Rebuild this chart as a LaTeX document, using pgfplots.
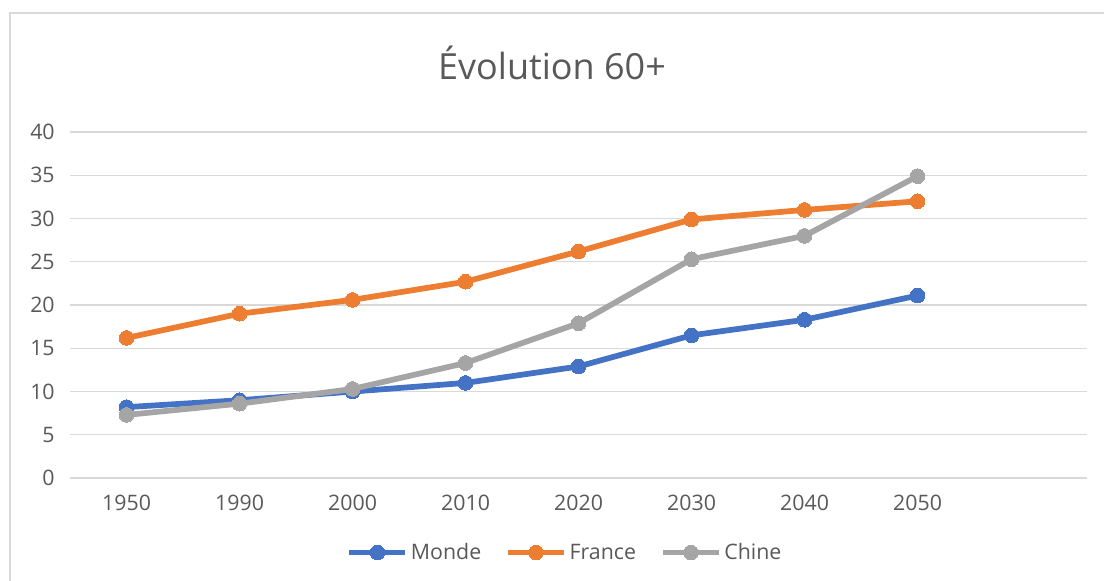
\documentclass[border=0pt]{standalone}
\usepackage{pgfplots}
\pgfplotsset{compat=1.18}
\usepackage{fontspec}
\setmainfont{Open Sans}
\definecolor{cblue}{HTML}{4472C4}
\definecolor{corange}{HTML}{ED7D31}
\definecolor{cgray}{HTML}{A5A5A5}
\definecolor{cgrid}{HTML}{D9D9D9}
\definecolor{ctext}{HTML}{595959}
\begin{document}
\begin{tikzpicture}[x=0.75pt,y=0.75pt]
\useasboundingbox (0,0) rectangle (1104,581);
\begin{scope}
\clip (0,0) rectangle (1104,581);
\draw[cgrid, line width=1.5pt] (10,-5) -- (10,568) -- (1110,568);
\end{scope}
\node[text=ctext, font=\fontsize{27}{32}\selectfont] at (552,518) {Évolution 60+};
\begin{axis}[
  at={(62,119)}, anchor=south west,
  scale only axis, width=762.75pt, height=259.5pt,
  xmin=-0.5, xmax=8.5, ymin=0, ymax=40,
  xtick={0,...,7},
  xticklabels={1950,1990,2000,2010,2020,2030,2040,2050},
  ytick={0,5,...,40},
  ymajorgrids, grid style={cgrid, line width=1pt},
  axis line style={draw=none},
  major tick length=0pt,
  tick label style={text=ctext, font=\fontsize{16}{19}\selectfont},
  /pgf/number format/assume math mode=true,
  xticklabel style={yshift=-9pt},
  yticklabel style={xshift=-8pt},
  legend columns=3,
  legend style={draw=none, at={(0.487,-0.215)}, anchor=center,
    font=\fontsize{16}{19}\selectfont, text=ctext,
    /tikz/every even column/.append style={column sep=16pt}},
  legend image code/.code={
    \draw[mark repeat=2,mark phase=2] plot coordinates {(0pt,0pt)(21pt,0pt)(42pt,0pt)};
  },
  every axis plot/.append style={line width=4.3pt, mark=*, mark size=5.5pt},
]
\addplot[cblue, line width=4.3pt, mark options={fill=cblue, draw=cblue, line width=0pt}] coordinates {
(0,8.2)(1,9.0)(2,10.0)(3,11.0)(4,12.9)(5,16.5)(6,18.3)(7,21.1)};
\addlegendentry{Monde}
\addplot[corange, line width=4.3pt, mark options={fill=corange, draw=corange, line width=0pt}] coordinates {
(0,16.2)(1,19.0)(2,20.6)(3,22.7)(4,26.2)(5,29.9)(6,31.0)(7,32.0)};
\addlegendentry{France}
\addplot[cgray, line width=4.3pt, mark options={fill=cgray, draw=cgray, line width=0pt}] coordinates {
(0,7.3)(1,8.6)(2,10.3)(3,13.3)(4,17.9)(5,25.3)(6,28.0)(7,34.9)};
\addlegendentry{Chine}
\end{axis}
\end{tikzpicture}
\end{document}
